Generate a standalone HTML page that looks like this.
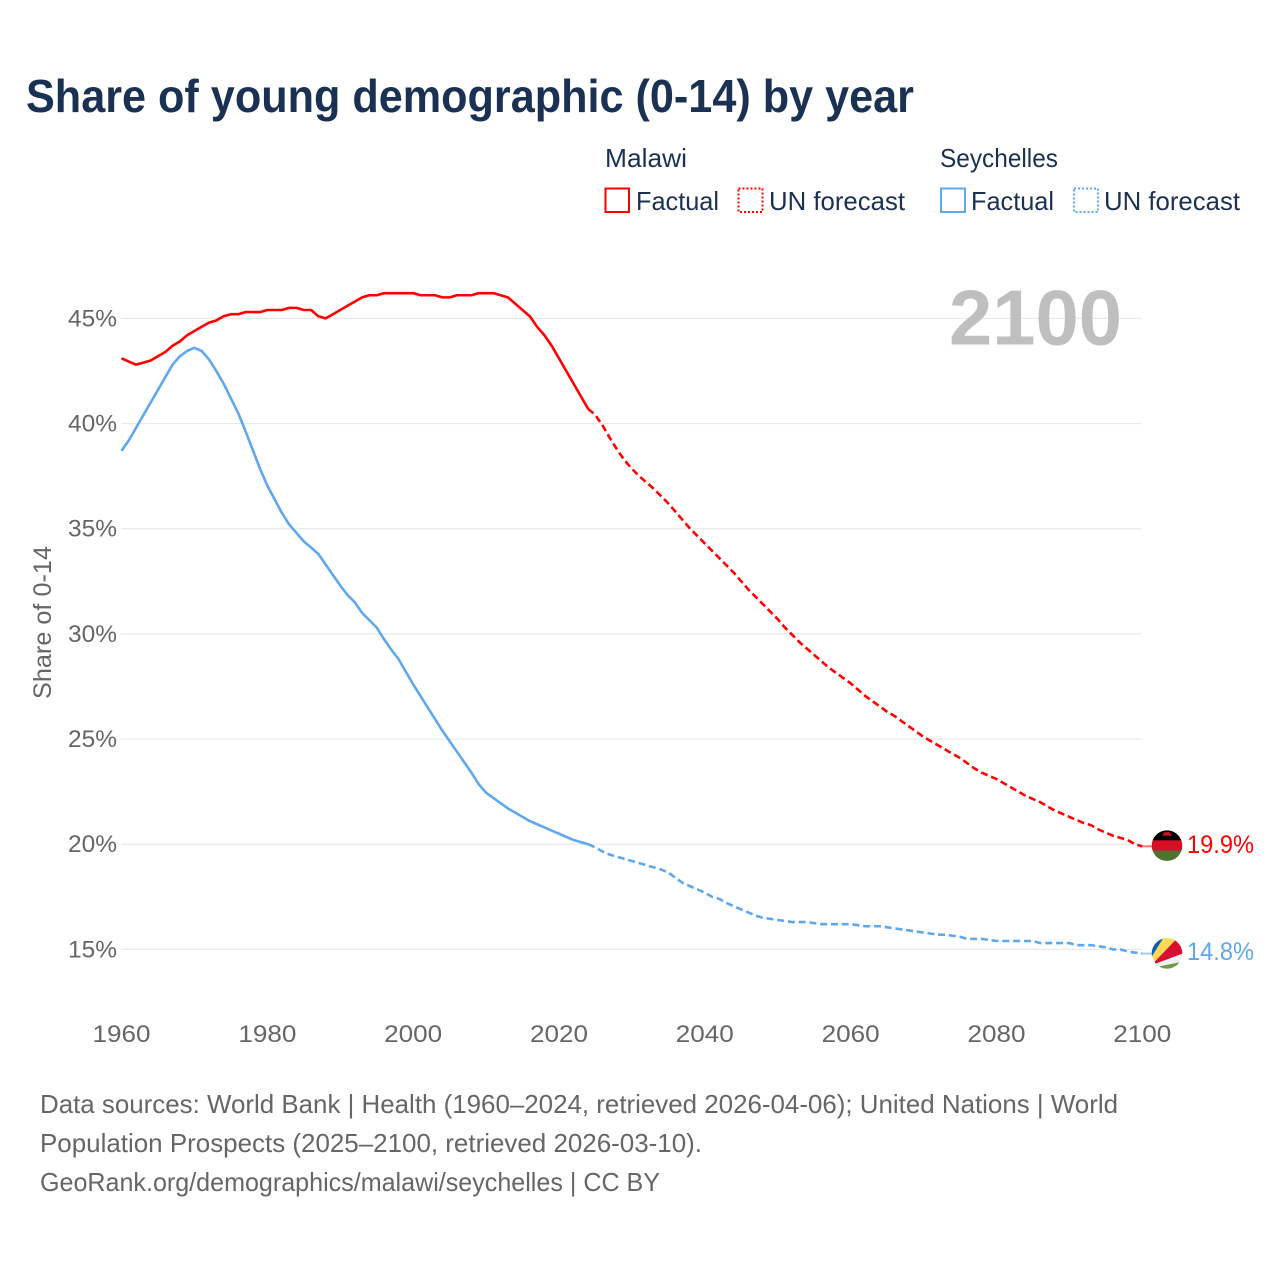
<!DOCTYPE html>
<html lang="en">
<head>
<meta charset="utf-8">
<title>Share of young demographic (0-14) by year</title>
<style>
  html, body { margin: 0; padding: 0; background: #fff; }
  svg { display: block; font-family: "Liberation Sans", sans-serif; }
  .tick { font-size: 24.5px; fill: #666; }
  .legend { font-size: 26px; fill: #1b3153; }
  .foot { font-size: 26px; fill: #666; }
</style>
</head>
<body>
<svg id="chart" xmlns="http://www.w3.org/2000/svg" width="1280" height="1280" viewBox="0 0 1280 1280">
  <defs>
    <clipPath id="flag-clip"><circle cx="0" cy="0" r="15.3"></circle></clipPath>
  </defs>
  <rect x="0" y="0" width="1280" height="1280" fill="#fff"></rect>

  <text x="26" y="112" font-size="46" font-weight="bold" fill="#1b3153" textLength="888" lengthAdjust="spacingAndGlyphs">Share of young demographic (0-14) by year</text>

  <g>
    <text class="legend" x="605" y="167" textLength="82" lengthAdjust="spacingAndGlyphs">Malawi</text>
    <text class="legend" x="940" y="167" textLength="118" lengthAdjust="spacingAndGlyphs">Seychelles</text>

    <rect x="605.5" y="188.5" width="23.5" height="23.5" fill="none" stroke="#ff0000" stroke-width="2"></rect>
    <text class="legend" x="636" y="210" textLength="83" lengthAdjust="spacingAndGlyphs">Factual</text>
    <rect x="738.5" y="188.5" width="24" height="23.5" fill="none" stroke="#ff0000" stroke-width="2" stroke-dasharray="2 2"></rect>
    <text class="legend" x="769" y="210" textLength="136" lengthAdjust="spacingAndGlyphs">UN forecast</text>

    <rect x="941" y="188.5" width="24" height="23.5" fill="none" stroke="#5fa8ee" stroke-width="2"></rect>
    <text class="legend" x="971" y="210" textLength="83" lengthAdjust="spacingAndGlyphs">Factual</text>
    <rect x="1074" y="188.5" width="24" height="23.5" fill="none" stroke="#5fa8ee" stroke-width="2" stroke-dasharray="2 2"></rect>
    <text class="legend" x="1104" y="210" textLength="136" lengthAdjust="spacingAndGlyphs">UN forecast</text>
  </g>

  <g id="grid"></g>
  <g id="y-axis"></g>
  <g id="x-axis"></g>

  <text transform="translate(51,622.5) rotate(-90)" text-anchor="middle" font-size="25" fill="#666" textLength="153" lengthAdjust="spacingAndGlyphs">Share of 0-14</text>

  <text x="949" y="344.5" font-size="78" font-weight="bold" fill="#bfbfbf" textLength="173" lengthAdjust="spacingAndGlyphs">2100</text>

  <g id="series"></g>

  <g id="flag-malawi">
    <g clip-path="url(#flag-clip)">
      <rect x="-16" y="-16" width="32" height="11" fill="#000"></rect>
      <rect x="-16" y="-5.3" width="32" height="10.6" fill="#d50f25"></rect>
      <rect x="-16" y="5" width="32" height="11" fill="#4e7330"></rect>
      <polygon points="-5,-10 5,-10 2.5,-13.5 -2.5,-13.5" fill="#d50f25"></polygon>
    </g>
  </g>
  <g id="flag-seychelles">
    <g clip-path="url(#flag-clip)">
      <rect x="-16" y="-16" width="32" height="32" fill="#f1f1f1"></rect>
      <polygon points="-15,3 -3.7,-15.2 -5,-20 -20,-20 -20,3" fill="#0f5fb3"></polygon>
      <polygon points="-15,3 -3.7,-15.2 -1,-20 12,-17 -12,8" fill="#fcd856"></polygon>
      <polygon points="-12,8 12,-17 20,-20 20,-1.5 -12,10.5" fill="#d80f33"></polygon>
      <polygon points="-9,13.2 13,8.8 20,8 20,20 -9,20" fill="#6d9c45"></polygon>
    </g>
  </g>
  <text id="label-malawi" x="1187" font-size="25" fill="#ff0000" textLength="67" lengthAdjust="spacingAndGlyphs"></text>
  <text id="label-seychelles" x="1187" font-size="25" fill="#5fa8ee" textLength="67" lengthAdjust="spacingAndGlyphs"></text>

  <g>
    <text class="foot" x="40" y="1113" textLength="1078" lengthAdjust="spacingAndGlyphs">Data sources: World Bank | Health (1960–2024, retrieved 2026-04-06); United Nations | World</text>
    <text class="foot" x="40" y="1152" textLength="662" lengthAdjust="spacingAndGlyphs">Population Prospects (2025–2100, retrieved 2026-03-10).</text>
    <text class="foot" x="40" y="1191" textLength="620" lengthAdjust="spacingAndGlyphs">GeoRank.org/demographics/malawi/seychelles | CC BY</text>
  </g>
</svg>

<script>
const yTicks = [45, 40, 35, 30, 25, 20, 15];
const xTicks = [1960, 1980, 2000, 2020, 2040, 2060, 2080, 2100];
const factualStartYear = 1960;
const forecastStartYear = 2025;

const malawiFactual = [
  43.1, 42.95, 42.8, 42.9, 43.0, 43.2, 43.4, 43.7, 43.9, 44.2,
  44.4, 44.6, 44.8, 44.9, 45.1, 45.2, 45.2, 45.3, 45.3, 45.3,
  45.4, 45.4, 45.4, 45.5, 45.5, 45.4, 45.4, 45.1, 45.0, 45.2,
  45.4, 45.6, 45.8, 46.0, 46.1, 46.1, 46.2, 46.2, 46.2, 46.2,
  46.2, 46.1, 46.1, 46.1, 46.0, 46.0, 46.1, 46.1, 46.1, 46.2,
  46.2, 46.2, 46.1, 46.0, 45.7, 45.4, 45.1, 44.6, 44.2, 43.7,
  43.1, 42.5, 41.9, 41.3, 40.7
];
const malawiForecast = [
  40.4, 39.9, 39.3, 38.75, 38.25, 37.85, 37.5, 37.2, 36.9, 36.55,
  36.2, 35.8, 35.4, 35.0, 34.65, 34.3, 33.95, 33.6, 33.25, 32.9,
  32.5, 32.1, 31.75, 31.4, 31.05, 30.7, 30.3, 29.95, 29.6, 29.3,
  29.0, 28.7, 28.4, 28.15, 27.9, 27.65, 27.35, 27.05, 26.8, 26.55,
  26.3, 26.1, 25.85, 25.6, 25.35, 25.1, 24.9, 24.7, 24.5, 24.3,
  24.1, 23.85, 23.6, 23.4, 23.25, 23.1, 22.9, 22.7, 22.5, 22.3,
  22.15, 22.0, 21.8, 21.6, 21.45, 21.3, 21.15, 21.0, 20.9, 20.7,
  20.55, 20.4, 20.3, 20.2, 20.0, 19.9
];
const seychellesFactual = [
  38.7, 39.2, 39.8, 40.4, 41.0, 41.6, 42.2, 42.8, 43.2, 43.45,
  43.6, 43.45, 43.05, 42.5, 41.9, 41.2, 40.5, 39.65, 38.75, 37.85,
  37.05, 36.4, 35.75, 35.2, 34.8, 34.4, 34.1, 33.8, 33.3, 32.8,
  32.3, 31.85, 31.5, 31.0, 30.65, 30.3, 29.75, 29.25, 28.8, 28.2,
  27.6, 27.05, 26.5, 25.95, 25.4, 24.9, 24.4, 23.9, 23.4, 22.85,
  22.45, 22.2, 21.95, 21.7, 21.5, 21.3, 21.1, 20.95, 20.8, 20.65,
  20.5, 20.35, 20.2, 20.1, 20.0
];
const seychellesForecast = [
  19.85, 19.65, 19.5, 19.4, 19.3, 19.2, 19.1, 19.0, 18.9, 18.8,
  18.65, 18.4, 18.15, 18.0, 17.85, 17.7, 17.5, 17.4, 17.2, 17.05,
  16.9, 16.75, 16.6, 16.5, 16.45, 16.4, 16.35, 16.3, 16.3, 16.3,
  16.25, 16.2, 16.2, 16.2, 16.2, 16.2, 16.15, 16.1, 16.1, 16.1,
  16.05, 16.0, 15.95, 15.9, 15.85, 15.8, 15.75, 15.7, 15.7, 15.65,
  15.6, 15.5, 15.5, 15.5, 15.45, 15.4, 15.4, 15.4, 15.4, 15.4,
  15.4, 15.3, 15.3, 15.3, 15.3, 15.3, 15.2, 15.2, 15.2, 15.15,
  15.1, 15.0, 15.0, 14.9, 14.85, 14.8
];

const SVG_NS = 'http://www.w3.org/2000/svg';
function xScale(year) { return 121.5 + (year - 1960) * (1142.3 - 121.5) / 140; }
function yScale(v) { return 318.4 + (45 - v) * (949.4 - 318.4) / 30; }

const gridGroup = document.getElementById('grid');
const yAxisGroup = document.getElementById('y-axis');
yTicks.forEach(function (t) {
  const line = document.createElementNS(SVG_NS, 'line');
  
  
  line.setAttribute('x1', 121);
  line.setAttribute('x2', 1141.5);
  line.setAttribute('y1', yScale(t));
  line.setAttribute('y2', yScale(t));
  line.setAttribute('stroke', '#e9e9e9');
  line.setAttribute('stroke-width', '1.2');
  gridGroup.appendChild(line);

  const label = document.createElementNS(SVG_NS, 'text');
  
  
  label.setAttribute('class', 'tick');
  label.setAttribute('x', 68);
  label.setAttribute('y', yScale(t) + 8);
  label.setAttribute('textLength', '49');
  label.setAttribute('lengthAdjust', 'spacingAndGlyphs');
  label.textContent = t + '%';
  yAxisGroup.appendChild(label);
});

const xAxisGroup = document.getElementById('x-axis');
xTicks.forEach(function (t) {
  const label = document.createElementNS(SVG_NS, 'text');
  
  
  label.setAttribute('class', 'tick');
  label.setAttribute('x', xScale(t) - 29);
  label.setAttribute('y', 1042);
  label.setAttribute('textLength', '58');
  label.setAttribute('lengthAdjust', 'spacingAndGlyphs');
  label.textContent = t;
  xAxisGroup.appendChild(label);
});

function toPath(points) {
  return points.map(function (p, i) {
    return (i ? 'L' : 'M') + xScale(p[0]).toFixed(2) + ' ' + yScale(p[1]).toFixed(2);
  }).join(' ');
}

const seriesGroup = document.getElementById('series');
function drawSeries(name, colour, factual, forecast) {
  const factualPts = factual.map(function (v, i) { return [factualStartYear + i, v]; });
  const forecastPts = forecast.map(function (v, i) { return [forecastStartYear + i, v]; });
  const joined = [factualPts[factualPts.length - 1]].concat(forecastPts);
  const last = forecastPts[forecastPts.length - 1];

  const connector = document.createElementNS(SVG_NS, 'line');
  
  
  connector.setAttribute('x1', xScale(last[0]));
  connector.setAttribute('x2', 1153);
  connector.setAttribute('y1', yScale(last[1]));
  connector.setAttribute('y2', yScale(last[1]));
  connector.setAttribute('stroke', colour);
  connector.setAttribute('stroke-width', '2');
  connector.setAttribute('stroke-opacity', '0.55');
  seriesGroup.appendChild(connector);

  const solid = document.createElementNS(SVG_NS, 'path');
  
  
  solid.setAttribute('d', toPath(factualPts));
  solid.setAttribute('fill', 'none');
  solid.setAttribute('stroke', colour);
  solid.setAttribute('stroke-width', '2.6');
  solid.setAttribute('stroke-linejoin', 'round');
  seriesGroup.appendChild(solid);

  const dashed = document.createElementNS(SVG_NS, 'path');
  
  
  dashed.setAttribute('d', toPath(joined));
  dashed.setAttribute('fill', 'none');
  dashed.setAttribute('stroke', colour);
  dashed.setAttribute('stroke-width', '2.6');
  dashed.setAttribute('stroke-dasharray', '7 3.8');
  seriesGroup.appendChild(dashed);

  return last[1];
}

const malawiEnd = drawSeries('malawi', '#ff0000', malawiFactual, malawiForecast);
const seychellesEnd = drawSeries('seychelles', '#5fa8ee', seychellesFactual, seychellesForecast);

document.getElementById('flag-malawi').setAttribute('transform', 'translate(1167,' + (yScale(malawiEnd) - 0.7) + ')');
document.getElementById('flag-seychelles').setAttribute('transform', 'translate(1167,' + (yScale(seychellesEnd) - 0.2) + ')');

const labelMalawi = document.getElementById('label-malawi');
labelMalawi.setAttribute('y', yScale(malawiEnd) + 6.5);
labelMalawi.textContent = malawiEnd.toFixed(1) + '%';
const labelSeychelles = document.getElementById('label-seychelles');
labelSeychelles.setAttribute('y', yScale(seychellesEnd) + 6.5);
labelSeychelles.textContent = seychellesEnd.toFixed(1) + '%';
</script>
</body>
</html>
